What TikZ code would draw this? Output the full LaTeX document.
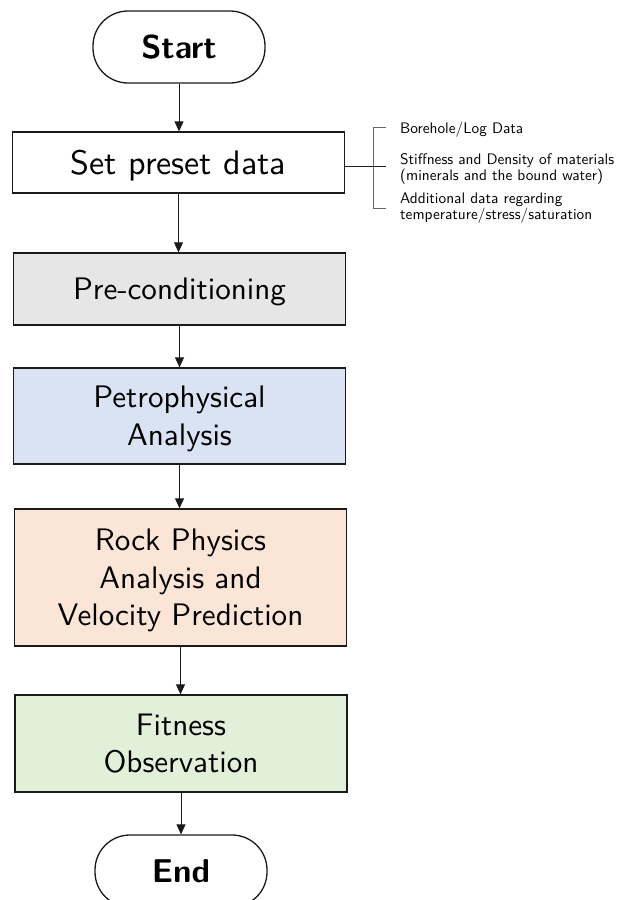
\documentclass[tikz,border=0pt]{standalone}
\usepackage{graphicx}
\usetikzlibrary{arrows.meta,calc}
\definecolor{fillgray}{HTML}{E7E6E6}
\definecolor{fillblue}{HTML}{DAE3F3}
\definecolor{fillorange}{HTML}{FBE5D6}
\definecolor{fillgreen}{HTML}{E2F0D9}
\definecolor{edge}{HTML}{1A1A1A}
% text set in the 10pt design size of Latin Modern Sans, then enlarged;
% the block is centred a little below the box centre
\newcommand{\steptext}[2][3.11]{\scalebox{#1}{\fontsize{10}{12}\selectfont\sffamily
  \raisebox{-3.5pt}[0pt][0pt]{\begin{tabular}{@{}c@{}}#2\end{tabular}}}}
\newcommand{\termtext}[1]{\scalebox{3.3}{\fontsize{10}{12}\selectfont\sffamily\bfseries #1}}
\newcommand{\notetext}[1]{\scalebox{1.53}{\fontsize{10}{10.6}\selectfont\sffamily
  \begin{tabular}[t]{@{}l@{}}#1\end{tabular}}}
\begin{document}
\begin{tikzpicture}[x=1pt,y=-1pt,
  stepbox/.style={draw=edge, line width=1.3pt, minimum width=332pt, inner sep=0pt, align=center},
  terminal/.style={draw=edge, line width=1.3pt, rounded corners=35pt, minimum width=172pt,
    minimum height=72pt, inner sep=0pt},
  arr/.style={draw=edge, line width=0.8pt, -{Triangle[length=10pt,width=9pt]}},
  brace/.style={draw=black!60, line width=1pt},
  note/.style={anchor=base west, inner sep=0pt}
]
\useasboundingbox (0,0) rectangle (619,900);
\clip (0,0) rectangle (619,900);

% flow steps
\node[terminal] (start) at (179,47) {\termtext{Start}};
\node[stepbox, minimum height=61pt] (set) at (178.5,162.5) {\steptext[3.4]{Set preset data}};
\node[stepbox, minimum height=72pt, fill=fillgray] (pre) at (179.5,289) {\steptext{Pre-conditioning}};
\node[stepbox, minimum height=96pt, fill=fillblue] (petro) at (179.5,416) {\steptext{Petrophysical\\Analysis}};
\node[stepbox, minimum height=137pt, fill=fillorange] (rock) at (180.5,577.5) {\steptext{Rock Physics\\Analysis and\\Velocity Prediction}};
\node[stepbox, minimum height=97pt, fill=fillgreen] (fit) at (181,743.5) {\steptext{Fitness\\Observation}};
\node[terminal] (end) at (181,871) {\termtext{End}};

% connectors
\draw[arr] (start.south) -- (start.south |- set.north);
\draw[arr] (set.south) -- (set.south |- pre.north);
\draw[arr] (pre.south) -- (pre.south |- petro.north);
\draw[arr] (petro.south) -- (petro.south |- rock.north);
\draw[arr] (rock.south) -- (rock.south |- fit.north);
\draw[arr] (fit.south) -- (fit.south |- end.north);

% input data bracket
\coordinate (bmid) at (386,166);
\coordinate (btop) at (373,127.5);
\coordinate (bbot) at (373,208.5);
\draw[brace] ($(btop)+(13,0)$) -- (btop) -- (bbot) -- ($(bbot)+(13,0)$);
\draw[draw=edge, line width=0.9pt] (set.east |- bmid) -- (bmid);

\node[note] (n1) at (400,133) {\notetext{Borehole/Log Data}};
\node[note] (n2) at (400,164.5) {\notetext{Stiffness and Density of materials\\(minerals and the bound water)}};
\node[note] (n3) at (400,203) {\notetext{Additional data regarding\\temperature/stress/saturation}};
\end{tikzpicture}
\end{document}
